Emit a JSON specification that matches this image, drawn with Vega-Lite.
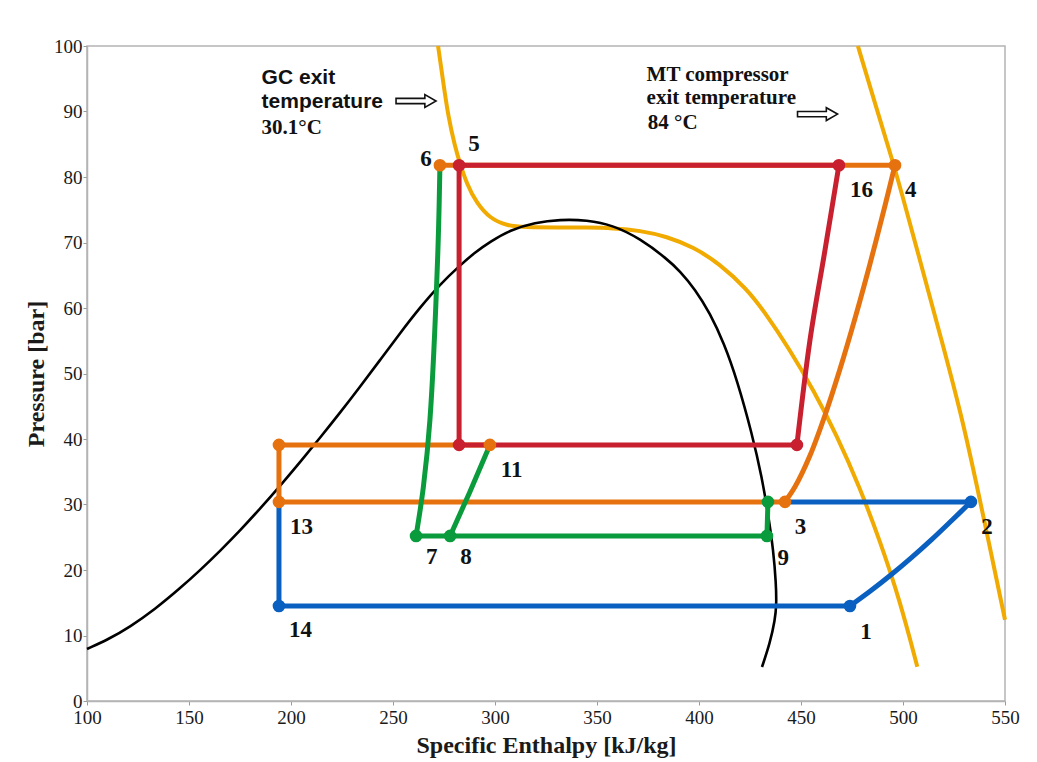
{
  "$schema": "https://vega.github.io/schema/vega-lite/v6.json",
  "width": 918,
  "height": 655,
  "autosize": {"type": "none"},
  "padding": {"left": 87, "top": 46, "right": 32, "bottom": 61},
  "background": "white",
  "config": {
    "view": {"stroke": "#b4b4b4", "strokeWidth": 1.5},
    "axis": {
      "grid": false,
      "domainColor": "#b4b4b4",
      "domainWidth": 1.5,
      "tickColor": "#9a9a9a",
      "tickSize": 4,
      "labelFont": "Liberation Serif",
      "labelFontSize": 19,
      "labelColor": "#1a1a1a",
      "titleFont": "Liberation Serif",
      "titleFontWeight": "bold",
      "titleFontSize": 24,
      "titleColor": "#1a1a1a"
    }
  },
  "datasets": {
    "lines": [
      {"c": "isotherm", "p": "curve", "s": "t1", "x": 272.1, "y": 100},
      {"c": "isotherm", "p": "curve", "s": "t1", "x": 274.7, "y": 94.3},
      {"c": "isotherm", "p": "curve", "s": "t1", "x": 277.1, "y": 89.2},
      {"c": "isotherm", "p": "curve", "s": "t1", "x": 280.4, "y": 84.6},
      {"c": "isotherm", "p": "curve", "s": "t1", "x": 282.8, "y": 82.1},
      {"c": "isotherm", "p": "curve", "s": "t1", "x": 286.1, "y": 79.0},
      {"c": "isotherm", "p": "curve", "s": "t1", "x": 291.0, "y": 76.0},
      {"c": "isotherm", "p": "curve", "s": "t1", "x": 297.5, "y": 73.7},
      {"c": "isotherm", "p": "curve", "s": "t1", "x": 305.7, "y": 72.55},
      {"c": "isotherm", "p": "curve", "s": "t1", "x": 315, "y": 72.35},
      {"c": "isotherm", "p": "curve", "s": "t1", "x": 330, "y": 72.3},
      {"c": "isotherm", "p": "curve", "s": "t1", "x": 345, "y": 72.3},
      {"c": "isotherm", "p": "curve", "s": "t1", "x": 358.0, "y": 72.2},
      {"c": "isotherm", "p": "curve", "s": "t1", "x": 371.08, "y": 71.83},
      {"c": "isotherm", "p": "curve", "s": "t1", "x": 384.17, "y": 70.92},
      {"c": "isotherm", "p": "curve", "s": "t1", "x": 397.21, "y": 69.31},
      {"c": "isotherm", "p": "curve", "s": "t1", "x": 410.29, "y": 66.72},
      {"c": "isotherm", "p": "curve", "s": "t1", "x": 423.38, "y": 62.9},
      {"c": "isotherm", "p": "curve", "s": "t1", "x": 431.52, "y": 59.69},
      {"c": "isotherm", "p": "curve", "s": "t1", "x": 444.61, "y": 53.59},
      {"c": "isotherm", "p": "curve", "s": "t1", "x": 456.03, "y": 47.48},
      {"c": "isotherm", "p": "curve", "s": "t1", "x": 467.5, "y": 40.61},
      {"c": "isotherm", "p": "curve", "s": "t1", "x": 478.92, "y": 32.52},
      {"c": "isotherm", "p": "curve", "s": "t1", "x": 488.73, "y": 24.43},
      {"c": "isotherm", "p": "curve", "s": "t1", "x": 498.53, "y": 15.27},
      {"c": "isotherm", "p": "curve", "s": "t1", "x": 507.01, "y": 5.24},
      {"c": "isotherm", "p": "curve", "s": "t2", "x": 477.9, "y": 100},
      {"c": "isotherm", "p": "curve", "s": "t2", "x": 486.5, "y": 91},
      {"c": "isotherm", "p": "curve", "s": "t2", "x": 495.3, "y": 82.1},
      {"c": "isotherm", "p": "curve", "s": "t2", "x": 501.6, "y": 75},
      {"c": "isotherm", "p": "curve", "s": "t2", "x": 508.3, "y": 67.3},
      {"c": "isotherm", "p": "curve", "s": "t2", "x": 519, "y": 55},
      {"c": "isotherm", "p": "curve", "s": "t2", "x": 529.3, "y": 42.9},
      {"c": "isotherm", "p": "curve", "s": "t2", "x": 538.6, "y": 29.4},
      {"c": "isotherm", "p": "curve", "s": "t2", "x": 550, "y": 12.4},
      {"c": "dome", "p": "curve", "s": "d", "x": 100, "y": 7.94},
      {"c": "dome", "p": "curve", "s": "d", "x": 110.29, "y": 9.38},
      {"c": "dome", "p": "curve", "s": "d", "x": 121.08, "y": 11.32},
      {"c": "dome", "p": "curve", "s": "d", "x": 133.3, "y": 14.0},
      {"c": "dome", "p": "curve", "s": "d", "x": 145.59, "y": 17.2},
      {"c": "dome", "p": "curve", "s": "d", "x": 155.4, "y": 19.95},
      {"c": "dome", "p": "curve", "s": "d", "x": 165.2, "y": 22.9},
      {"c": "dome", "p": "curve", "s": "d", "x": 175.0, "y": 26.0},
      {"c": "dome", "p": "curve", "s": "d", "x": 184.8, "y": 29.35},
      {"c": "dome", "p": "curve", "s": "d", "x": 194.6, "y": 32.83},
      {"c": "dome", "p": "curve", "s": "d", "x": 204.41, "y": 36.46},
      {"c": "dome", "p": "curve", "s": "d", "x": 214.2, "y": 40.18},
      {"c": "dome", "p": "curve", "s": "d", "x": 224.02, "y": 44.0},
      {"c": "dome", "p": "curve", "s": "d", "x": 233.8, "y": 47.96},
      {"c": "dome", "p": "curve", "s": "d", "x": 243.63, "y": 52.04},
      {"c": "dome", "p": "curve", "s": "d", "x": 253.4, "y": 56.14},
      {"c": "dome", "p": "curve", "s": "d", "x": 263.24, "y": 60.08},
      {"c": "dome", "p": "curve", "s": "d", "x": 273.0, "y": 63.6},
      {"c": "dome", "p": "curve", "s": "d", "x": 282.84, "y": 66.5},
      {"c": "dome", "p": "curve", "s": "d", "x": 290.2, "y": 68.5},
      {"c": "dome", "p": "curve", "s": "d", "x": 297.55, "y": 70.1},
      {"c": "dome", "p": "curve", "s": "d", "x": 307.35, "y": 71.91},
      {"c": "dome", "p": "curve", "s": "d", "x": 319.61, "y": 73.05},
      {"c": "dome", "p": "curve", "s": "d", "x": 331.86, "y": 73.51},
      {"c": "dome", "p": "curve", "s": "d", "x": 344.95, "y": 73.44},
      {"c": "dome", "p": "curve", "s": "d", "x": 357.99, "y": 72.63},
      {"c": "dome", "p": "curve", "s": "d", "x": 371.08, "y": 70.6},
      {"c": "dome", "p": "curve", "s": "d", "x": 384.17, "y": 67.54},
      {"c": "dome", "p": "curve", "s": "d", "x": 390.69, "y": 65.62},
      {"c": "dome", "p": "curve", "s": "d", "x": 398.04, "y": 62.87},
      {"c": "dome", "p": "curve", "s": "d", "x": 405.39, "y": 59.21},
      {"c": "dome", "p": "curve", "s": "d", "x": 412.25, "y": 54.61},
      {"c": "dome", "p": "curve", "s": "d", "x": 418.63, "y": 49.05},
      {"c": "dome", "p": "curve", "s": "d", "x": 425.98, "y": 40.81},
      {"c": "dome", "p": "curve", "s": "d", "x": 430.88, "y": 34.09},
      {"c": "dome", "p": "curve", "s": "d", "x": 434.07, "y": 28.14},
      {"c": "dome", "p": "curve", "s": "d", "x": 436.42, "y": 23.08},
      {"c": "dome", "p": "curve", "s": "d", "x": 437.75, "y": 18.02},
      {"c": "dome", "p": "curve", "s": "d", "x": 437.99, "y": 14.66},
      {"c": "dome", "p": "curve", "s": "d", "x": 437.25, "y": 12.37},
      {"c": "dome", "p": "curve", "s": "d", "x": 434.8, "y": 8.85},
      {"c": "dome", "p": "curve", "s": "d", "x": 430.88, "y": 5.19},
      {"c": "c1", "p": "straight", "s": "b1", "x": 194.1, "y": 30.4},
      {"c": "c1", "p": "straight", "s": "b1", "x": 194.1, "y": 14.5},
      {"c": "c1", "p": "straight", "s": "b1", "x": 474, "y": 14.5},
      {"c": "c1", "p": "curve", "s": "b2", "x": 474, "y": 14.5},
      {"c": "c1", "p": "curve", "s": "b2", "x": 484, "y": 16.78},
      {"c": "c1", "p": "curve", "s": "b2", "x": 494, "y": 19.23},
      {"c": "c1", "p": "curve", "s": "b2", "x": 504, "y": 21.85},
      {"c": "c1", "p": "curve", "s": "b2", "x": 514, "y": 24.64},
      {"c": "c1", "p": "curve", "s": "b2", "x": 524, "y": 27.6},
      {"c": "c1", "p": "curve", "s": "b2", "x": 533.3, "y": 30.4},
      {"c": "c1", "p": "straight", "s": "b3", "x": 533.3, "y": 30.4},
      {"c": "c1", "p": "straight", "s": "b3", "x": 442, "y": 30.4},
      {"c": "c2", "p": "straight", "s": "o1", "x": 297.5, "y": 39.1},
      {"c": "c2", "p": "straight", "s": "o1", "x": 194.1, "y": 39.1},
      {"c": "c2", "p": "straight", "s": "o1", "x": 194.1, "y": 30.4},
      {"c": "c2", "p": "straight", "s": "o1", "x": 442.16, "y": 30.4},
      {"c": "c2", "p": "curve", "s": "o2", "x": 442.16, "y": 30.43},
      {"c": "c2", "p": "curve", "s": "o2", "x": 447.06, "y": 32.7},
      {"c": "c2", "p": "curve", "s": "o2", "x": 454.41, "y": 37.48},
      {"c": "c2", "p": "curve", "s": "o2", "x": 461.76, "y": 43.63},
      {"c": "c2", "p": "curve", "s": "o2", "x": 469.12, "y": 50.69},
      {"c": "c2", "p": "curve", "s": "o2", "x": 476.47, "y": 58.42},
      {"c": "c2", "p": "curve", "s": "o2", "x": 483.82, "y": 66.75},
      {"c": "c2", "p": "curve", "s": "o2", "x": 491.18, "y": 75.63},
      {"c": "c2", "p": "curve", "s": "o2", "x": 496.08, "y": 81.8},
      {"c": "c2", "p": "straight", "s": "o3", "x": 496.08, "y": 81.8},
      {"c": "c2", "p": "straight", "s": "o3", "x": 273, "y": 81.8},
      {"c": "c3", "p": "straight", "s": "r1", "x": 448, "y": 39.1},
      {"c": "c3", "p": "straight", "s": "r1", "x": 282.4, "y": 39.1},
      {"c": "c3", "p": "straight", "s": "r1", "x": 282.4, "y": 81.8},
      {"c": "c3", "p": "straight", "s": "r1", "x": 468.6, "y": 81.8},
      {"c": "c3", "p": "curve", "s": "r2", "x": 468.6, "y": 81.8},
      {"c": "c3", "p": "curve", "s": "r2", "x": 461.8, "y": 68.9},
      {"c": "c3", "p": "curve", "s": "r2", "x": 454.4, "y": 55.1},
      {"c": "c3", "p": "curve", "s": "r2", "x": 448, "y": 39.1},
      {"c": "c4", "p": "curve", "s": "g1", "x": 273, "y": 81.8},
      {"c": "c4", "p": "curve", "s": "g1", "x": 271.9, "y": 67.8},
      {"c": "c4", "p": "curve", "s": "g1", "x": 268.1, "y": 42.9},
      {"c": "c4", "p": "curve", "s": "g1", "x": 264.9, "y": 32.7},
      {"c": "c4", "p": "curve", "s": "g1", "x": 261.3, "y": 25.2},
      {"c": "c4", "p": "straight", "s": "g2", "x": 261.3, "y": 25.2},
      {"c": "c4", "p": "straight", "s": "g2", "x": 433.3, "y": 25.2},
      {"c": "c4", "p": "straight", "s": "g2", "x": 433.8, "y": 30.4},
      {"c": "c4", "p": "straight", "s": "g3", "x": 278, "y": 25.2},
      {"c": "c4", "p": "straight", "s": "g3", "x": 287.5, "y": 31.8},
      {"c": "c4", "p": "straight", "s": "g3", "x": 297.5, "y": 39.1}
    ],
    "states": [
      {"c": "c1", "x": 194.1, "y": 14.5},
      {"c": "c1", "x": 474, "y": 14.5},
      {"c": "c1", "x": 533.3, "y": 30.4},
      {"c": "c2", "x": 194.1, "y": 39.1},
      {"c": "c2", "x": 194.1, "y": 30.4},
      {"c": "c2", "x": 297.5, "y": 39.1},
      {"c": "c2", "x": 442.16, "y": 30.4},
      {"c": "c2", "x": 496.08, "y": 81.8},
      {"c": "c2", "x": 273, "y": 81.8},
      {"c": "c3", "x": 282.4, "y": 81.8},
      {"c": "c3", "x": 468.6, "y": 81.8},
      {"c": "c3", "x": 282.4, "y": 39.1},
      {"c": "c3", "x": 448, "y": 39.1},
      {"c": "c4", "x": 261.3, "y": 25.2},
      {"c": "c4", "x": 278, "y": 25.2},
      {"c": "c4", "x": 433.8, "y": 30.4},
      {"c": "c4", "x": 433.3, "y": 25.2}
    ],
    "labels": [
      {"t": "1", "x": 481.9, "y": 10.5},
      {"t": "2", "x": 541.2, "y": 26.6},
      {"t": "3", "x": 449.8, "y": 26.6},
      {"t": "4", "x": 503.8, "y": 78.0},
      {"t": "5", "x": 289.7, "y": 85.0},
      {"t": "6", "x": 266.2, "y": 82.8},
      {"t": "7", "x": 269.0, "y": 22.0},
      {"t": "8", "x": 285.8, "y": 22.0},
      {"t": "9", "x": 441.3, "y": 21.8},
      {"t": "11", "x": 308.2, "y": 35.3},
      {"t": "13", "x": 205.2, "y": 26.6},
      {"t": "14", "x": 204.7, "y": 10.8},
      {"t": "16", "x": 479.7, "y": 78.0}
    ],
    "notes": [
      {"k": "sans", "t": "GC exit", "x": 185.6, "y": 94.15},
      {"k": "sans", "t": "temperature", "x": 185.6, "y": 90.6},
      {"k": "serif", "t": "30.1°C", "x": 185.6, "y": 86.6},
      {"k": "serif", "t": "MT compressor", "x": 374.3, "y": 94.7},
      {"k": "serif", "t": "exit temperature", "x": 374.3, "y": 91.1},
      {"k": "serif", "t": "84 °C", "x": 374.9, "y": 87.3}
    ],
    "arrows": [
      {"x": 261.3, "y": 91.6},
      {"x": 458.1, "y": 89.6}
    ]
  },
  "encoding": {
    "x": {
      "field": "x",
      "type": "quantitative",
      "scale": {"domain": [100, 550], "nice": false, "zero": false},
      "axis": {
        "title": "Specific Enthalpy [kJ/kg]",
        "values": [100, 150, 200, 250, 300, 350, 400, 450, 500, 550],
        "labelPadding": 3,
        "titlePadding": 6,
        "labelFlush": false
      }
    },
    "y": {
      "field": "y",
      "type": "quantitative",
      "scale": {"domain": [0, 100], "nice": false},
      "axis": {
        "title": "Pressure [bar]",
        "values": [0, 10, 20, 30, 40, 50, 60, 70, 80, 90, 100],
        "labelPadding": 1,
        "titlePadding": 5,
        "labelFlush": false
      }
    }
  },
  "layer": [
    {
      "data": {"name": "lines"},
      "transform": [{"filter": "datum.c === 'isotherm'"}],
      "mark": {"type": "line", "strokeWidth": 4, "strokeCap": "butt", "interpolate": "basis"},
      "encoding": {
        "detail": {"field": "s"},
        "order": {"value": null},
        "color": {"field": "c", "type": "nominal", "legend": null,
          "scale": {"domain": ["dome", "isotherm", "c1", "c2", "c3", "c4"],
                    "range": ["#000000", "#f0aa00", "#0a60c0", "#e6720f", "#c8202f", "#0a9c3c"]}}
      }
    },
    {
      "data": {"name": "lines"},
      "transform": [{"filter": "datum.c === 'dome'"}],
      "mark": {"type": "line", "strokeWidth": 2.6, "interpolate": "basis"},
      "encoding": {"detail": {"field": "s"}, "order": {"value": null},
        "color": {"field": "c", "type": "nominal", "legend": null}}
    },
    {
      "data": {"name": "lines"},
      "transform": [{"filter": "datum.c === 'c1' && datum.p === 'straight'"}],
      "mark": {"type": "line", "strokeWidth": 5},
      "encoding": {"detail": {"field": "s"}, "order": {"value": null},
        "color": {"field": "c", "type": "nominal", "legend": null}}
    },
    {
      "data": {"name": "lines"},
      "transform": [{"filter": "datum.c === 'c1' && datum.p === 'curve'"}],
      "mark": {"type": "line", "strokeWidth": 5, "interpolate": "catmull-rom"},
      "encoding": {"detail": {"field": "s"}, "order": {"value": null},
        "color": {"field": "c", "type": "nominal", "legend": null}}
    },
    {
      "data": {"name": "lines"},
      "transform": [{"filter": "datum.c === 'c2' && datum.p === 'straight'"}],
      "mark": {"type": "line", "strokeWidth": 5},
      "encoding": {"detail": {"field": "s"}, "order": {"value": null},
        "color": {"field": "c", "type": "nominal", "legend": null}}
    },
    {
      "data": {"name": "lines"},
      "transform": [{"filter": "datum.c === 'c2' && datum.p === 'curve'"}],
      "mark": {"type": "line", "strokeWidth": 5, "interpolate": "catmull-rom"},
      "encoding": {"detail": {"field": "s"}, "order": {"value": null},
        "color": {"field": "c", "type": "nominal", "legend": null}}
    },
    {
      "data": {"name": "lines"},
      "transform": [{"filter": "datum.c === 'c3' && datum.p === 'straight'"}],
      "mark": {"type": "line", "strokeWidth": 5},
      "encoding": {"detail": {"field": "s"}, "order": {"value": null},
        "color": {"field": "c", "type": "nominal", "legend": null}}
    },
    {
      "data": {"name": "lines"},
      "transform": [{"filter": "datum.c === 'c3' && datum.p === 'curve'"}],
      "mark": {"type": "line", "strokeWidth": 5, "interpolate": "catmull-rom"},
      "encoding": {"detail": {"field": "s"}, "order": {"value": null},
        "color": {"field": "c", "type": "nominal", "legend": null}}
    },
    {
      "data": {"name": "lines"},
      "transform": [{"filter": "datum.c === 'c4' && datum.p === 'straight'"}],
      "mark": {"type": "line", "strokeWidth": 5},
      "encoding": {"detail": {"field": "s"}, "order": {"value": null},
        "color": {"field": "c", "type": "nominal", "legend": null}}
    },
    {
      "data": {"name": "lines"},
      "transform": [{"filter": "datum.c === 'c4' && datum.p === 'curve'"}],
      "mark": {"type": "line", "strokeWidth": 5, "interpolate": "catmull-rom"},
      "encoding": {"detail": {"field": "s"}, "order": {"value": null},
        "color": {"field": "c", "type": "nominal", "legend": null}}
    },
    {
      "data": {"name": "states"},
      "mark": {"type": "point", "filled": true, "opacity": 1, "size": 160},
      "encoding": {"color": {"field": "c", "type": "nominal", "legend": null}}
    },
    {
      "data": {"name": "labels"},
      "mark": {"type": "text", "font": "Liberation Serif", "fontWeight": "bold", "fontSize": 23, "align": "center", "baseline": "middle", "color": "#111111"},
      "encoding": {"text": {"field": "t"}}
    },
    {
      "data": {"name": "notes"},
      "transform": [{"filter": "datum.k === 'sans'"}],
      "mark": {"type": "text", "font": "Liberation Sans", "fontWeight": "bold", "fontSize": 21, "align": "left", "baseline": "alphabetic", "color": "#111111"},
      "encoding": {"text": {"field": "t"}}
    },
    {
      "data": {"name": "notes"},
      "transform": [{"filter": "datum.k === 'serif'"}],
      "mark": {"type": "text", "font": "Liberation Serif", "fontWeight": "bold", "fontSize": 21, "align": "left", "baseline": "alphabetic", "color": "#111111"},
      "encoding": {"text": {"field": "t"}}
    },
    {
      "data": {"name": "arrows"},
      "mark": {"type": "point", "shape": "M-1,-0.13L0.44,-0.13L0.44,-0.32L1,0L0.44,0.32L0.44,0.13L-1,0.13Z", "size": 1600, "filled": false, "fill": "white", "stroke": "#111111", "strokeWidth": 1.6, "opacity": 1}
    }
  ]
}
